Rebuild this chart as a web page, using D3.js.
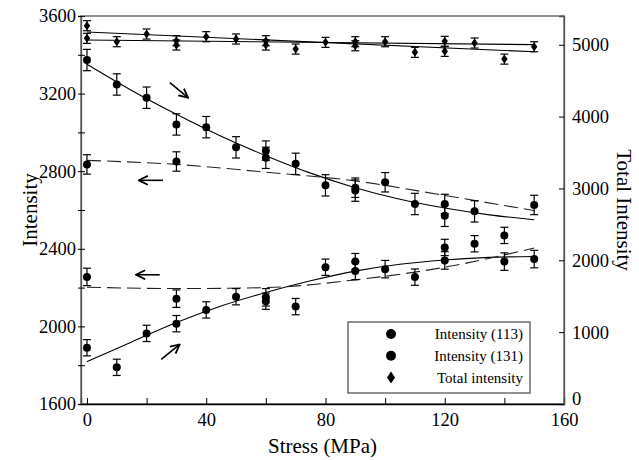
<!DOCTYPE html>
<html>
<head>
<meta charset="utf-8">
<script src="https://cdn.jsdelivr.net/npm/d3@7"></script>
<style>
  body { margin: 0; background: #fff; }
  text { font-family: "Liberation Serif", "Times New Roman", serif; fill: #000; }
</style>
</head>
<body>
<svg id="chart" width="639" height="460"></svg>
<script>
// stress values (MPa) and intensities
var stress113a = [0, 10, 20, 30, 40, 50, 60, 70, 80, 90, 110, 120, 130];
var int113a = [3373, 3247, 3179, 3041, 3027, 2923, 2869, 2838, 2727, 2700, 2631, 2570, 2593];
var stress113b = [0, 30, 60, 90, 100, 120, 150];
var int113b = [2835, 2850, 2906, 2715, 2743, 2631, 2626];
var stress131a = [0, 10, 20, 30, 40, 50, 60, 70, 80, 90, 110, 120, 130, 140];
var int131a = [1890, 1789, 1964, 2014, 2085, 2153, 2130, 2102, 2305, 2334, 2254, 2407, 2426, 2469];
var stress131b = [0, 30, 60, 90, 100, 120, 140, 150];
var int131b = [2255, 2143, 2150, 2286, 2295, 2340, 2334, 2347];
var stressTotal = [0, 0, 10, 20, 30, 30, 40, 50, 60, 60, 70, 80, 90, 90, 100, 110, 120, 120, 130, 140, 150];
var totalInt = [5265, 5089, 5042, 5149, 5056, 4996, 5112, 5080, 5056, 4996, 4940, 5033, 5042, 4986, 5042, 4894, 5047, 4908, 5024, 4800, 4972];

// error bar half widths
var err113a = 55, err113b = 50, err131a = 42, err131b = 45, errTotal = 70;

// fitted curves
var fitStress = [0, 15, 30, 45, 60, 75, 90, 105, 120, 135, 150];
var fit113a = [3351, 3216, 3093, 2980, 2880, 2790, 2715, 2655, 2610, 2575, 2550];
var fit131a = [1818, 1920, 2020, 2105, 2175, 2235, 2285, 2320, 2342, 2356, 2360];
var fitStressDash = [0, 30, 60, 90, 120, 150];
var fit113b = [2856, 2835, 2795, 2750, 2675, 2597];
var fit131b = [2202, 2195, 2200, 2240, 2305, 2404];
var fitStressTotal = [0, 150];
var fitTotal1 = [5177, 4902];
var fitTotal2 = [5065, 5001];

// ticks
var xTicks = [0, 20, 40, 60, 80, 100, 120, 140, 160];
var xLabels = [0, 40, 80, 120, 160];
var yTicks = [1600, 1800, 2000, 2200, 2400, 2600, 2800, 3000, 3200, 3400, 3600];
var yLabels = [1600, 2000, 2400, 2800, 3200, 3600];
var y2Ticks = [0, 1000, 2000, 3000, 4000, 5000];

var legendNames = ["Intensity (113)", "Intensity (131)", "Total intensity"];

var svg = d3.select("#chart");
var plotLeft = 81, plotRight = 564, plotTop = 16, plotBottom = 404;

var x = d3.scaleLinear().domain([-2, 160]).range([plotLeft, plotRight]);
var y = d3.scaleLinear().domain([1600, 3600]).range([plotBottom, plotTop]);
var y2 = d3.scaleLinear().domain([0, 5400]).range([plotBottom, plotTop]);

// frame
svg.append("rect")
    .attr("x", plotLeft).attr("y", plotTop)
    .attr("width", plotRight - plotLeft).attr("height", plotBottom - plotTop)
    .attr("fill", "none")
    .attr("stroke", "#555")
    .attr("stroke-width", 1.3);

// bottom axis, ticks inside
var xAxis = svg.append("g")
    .attr("transform", "translate(0," + plotBottom + ")")
    .call(d3.axisBottom(x).tickValues(xTicks).tickSize(-6).tickPadding(9)
        .tickFormat(function(d) { return xLabels.indexOf(d) >= 0 ? d : ""; }));
xAxis.select(".domain").attr("stroke", "#000").attr("stroke-width", 1.3);
xAxis.selectAll("text").style("font-size", "18.5px");

// left axis, ticks cross the line
var yAxis = svg.append("g")
    .attr("transform", "translate(" + plotLeft + ",0)")
    .call(d3.axisLeft(y).tickValues(yTicks).tickSize(3).tickPadding(2)
        .tickFormat(function(d) { return yLabels.indexOf(d) >= 0 ? d : ""; }));
yAxis.select(".domain").attr("stroke", "#555").attr("stroke-width", 1.3);
yAxis.selectAll("text").style("font-size", "18.5px");
svg.append("g")
    .attr("transform", "translate(" + plotLeft + ",0)")
    .call(d3.axisLeft(y).tickValues(yTicks).tickSize(-4).tickFormat(""))
    .select(".domain").remove();

// right axis
var y2Axis = svg.append("g")
    .attr("transform", "translate(" + plotRight + ",0)")
    .call(d3.axisRight(y2).tickValues(y2Ticks).tickSize(-5).tickPadding(8)
        .tickFormat(d3.format("d")));
y2Axis.select(".domain").attr("stroke", "#555").attr("stroke-width", 1.3);
y2Axis.selectAll("text").style("font-size", "18.5px");
// lift the bottom "0" a little so it sits clear of "160"
y2Axis.selectAll("text").filter(function(d) { return d == 0; }).attr("dy", "0.05em");

// axis titles
svg.append("text")
    .attr("x", (plotLeft + plotRight) / 2).attr("y", 453)
    .attr("text-anchor", "middle")
    .style("font-size", "21px")
    .text("Stress (MPa)");
svg.append("text")
    .attr("transform", "translate(37," + (plotTop + plotBottom) / 2 + ") rotate(-90)")
    .attr("text-anchor", "middle")
    .style("font-size", "21px")
    .text("Intensity");
svg.append("text")
    .attr("transform", "translate(617," + (plotTop + plotBottom) / 2 + ") rotate(90)")
    .attr("text-anchor", "middle")
    .style("font-size", "21px")
    .text("Total Intensity");

// fitted lines
function drawFit(xs, vs, scale, dashed) {
    var line = d3.line()
        .x(function(d, i) { return x(xs[i]); })
        .y(function(d) { return scale(d); })
        .curve(d3.curveMonotoneX);
    svg.append("path")
        .datum(vs)
        .attr("d", line)
        .attr("fill", "none")
        .attr("stroke", dashed ? "#222" : "#000")
        .attr("stroke-width", 1.1)
        .attr("stroke-dasharray", dashed ? "14,6" : null);
}
drawFit(fitStress, fit113a, y, false);
drawFit(fitStress, fit131a, y, false);
drawFit(fitStressDash, fit113b, y, true);
drawFit(fitStressDash, fit131b, y, true);
drawFit(fitStressTotal, fitTotal1, y2, false);
drawFit(fitStressTotal, fitTotal2, y2, false);

// error bars and markers
function drawSeries(xs, vs, err, scale, shape) {
    var g = svg.append("g");
    var pts = vs.map(function(v, i) { return { s: xs[i], v: v }; });
    var bars = g.selectAll(".bar").data(pts).enter().append("g")
        .attr("stroke", "#000").attr("stroke-width", 1.2);
    bars.append("line")
        .attr("x1", function(d) { return x(d.s); }).attr("x2", function(d) { return x(d.s); })
        .attr("y1", function(d) { return scale(d.v - err); })
        .attr("y2", function(d) { return scale(d.v + err); });
    [-err, err].forEach(function(e) {
        bars.append("line")
            .attr("x1", function(d) { return x(d.s) - 4; }).attr("x2", function(d) { return x(d.s) + 4; })
            .attr("y1", function(d) { return scale(d.v + e); })
            .attr("y2", function(d) { return scale(d.v + e); });
    });
    if (shape == "circle") {
        g.selectAll("circle").data(pts).enter().append("circle")
            .attr("cx", function(d) { return x(d.s); })
            .attr("cy", function(d) { return scale(d.v); })
            .attr("r", 4)
            .attr("fill", "#000");
    } else {
        g.selectAll("path.dia").data(pts).enter().append("path")
            .attr("d", function(d) {
                var cx = x(d.s), cy = scale(d.v);
                return "M" + cx + "," + (cy - 4.5) + "L" + (cx + 3.2) + "," + cy +
                    "L" + cx + "," + (cy + 4.5) + "L" + (cx - 3.2) + "," + cy + "Z";
            })
            .attr("fill", "#000");
    }
}
drawSeries(stressTotal, totalInt, errTotal, y2, "diamond");
drawSeries(stress113a, int113a, err113a, y, "circle");
drawSeries(stress113b, int113b, err113b, y, "circle");
drawSeries(stress131a, int131a, err131a, y, "circle");
drawSeries(stress131b, int131b, err131b, y, "circle");

// trend arrows
svg.append("defs").append("marker")
    .attr("id", "head")
    .attr("viewBox", "0 0 10 10")
    .attr("refX", 9).attr("refY", 5)
    .attr("markerWidth", 7).attr("markerHeight", 7)
    .attr("orient", "auto")
    .append("path")
    .attr("d", "M1,1L9,5L1,9")
    .attr("fill", "none")
    .attr("stroke", "#000")
    .attr("stroke-width", 1.6);

var arrows = [
    [27.8, 3256, 33.9, 3179],
    [25.5, 2753, 17.4, 2753],
    [24.4, 2266, 16.5, 2266],
    [24.9, 1830, 31.1, 1907]
];
svg.selectAll(".arrow").data(arrows).enter().append("line")
    .attr("x1", function(d) { return x(d[0]); })
    .attr("y1", function(d) { return y(d[1]); })
    .attr("x2", function(d) { return x(d[2]); })
    .attr("y2", function(d) { return y(d[3]); })
    .attr("stroke", "#000")
    .attr("stroke-width", 1.6)
    .attr("marker-end", "url(#head)");

// legend
var legend = svg.append("g").attr("transform", "translate(348,322)");
legend.append("rect")
    .attr("width", 182).attr("height", 71)
    .attr("fill", "#fff")
    .attr("stroke", "#555")
    .attr("stroke-width", 1.3);
legendNames.forEach(function(name, i) {
    var ly = 12 + i * 21.8;
    if (i < 2) {
        legend.append("circle").attr("cx", 43).attr("cy", ly).attr("r", 5).attr("fill", "#000");
    } else {
        legend.append("path")
            .attr("d", "M43," + (ly - 6) + "L47," + ly + "L43," + (ly + 6) + "L39," + ly + "Z")
            .attr("fill", "#000");
    }
    legend.append("text")
        .attr("x", 175).attr("y", ly + 5)
        .attr("text-anchor", "end")
        .style("font-size", "15px")
        .text(name);
});
</script>
</body>
</html>
